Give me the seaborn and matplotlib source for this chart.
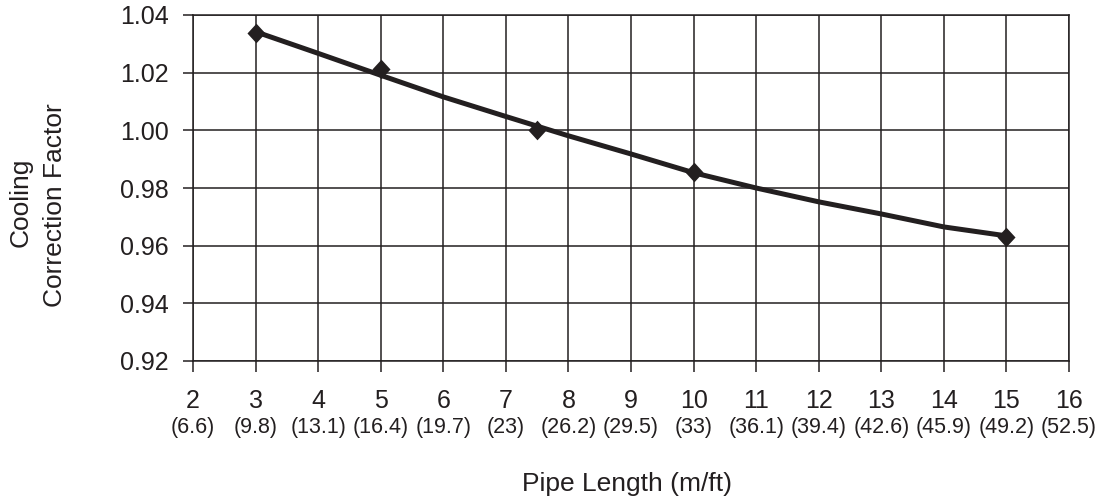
import matplotlib
matplotlib.use("Agg")
import matplotlib.pyplot as plt
import matplotlib.transforms as mtransforms
from matplotlib import font_manager
import seaborn as sns
import pandas as pd

# ---- data ----
tick_m = [2, 3, 4, 5, 6, 7, 8, 9, 10, 11, 12, 13, 14, 15, 16]
tick_ft = ["(6.6)", "(9.8)", "(13.1)", "(16.4)", "(19.7)", "(23)", "(26.2)", "(29.5)",
           "(33)", "(36.1)", "(39.4)", "(42.6)", "(45.9)", "(49.2)", "(52.5)"]
y_ticks = [0.92, 0.94, 0.96, 0.98, 1.00, 1.02, 1.04]

trend_x = [3, 4, 5, 6, 7, 8, 9, 10, 11, 12, 13, 14, 15]
trend_y = [1.0342, 1.0267, 1.0191, 1.0116, 1.0048, 0.9981, 0.9918, 0.9853,
           0.9800, 0.9752, 0.9710, 0.9665, 0.9634]

point_x = [3, 5, 7.5, 10, 15]
point_y = [1.0336, 1.0214, 1.000, 0.9857, 0.9631]

trend = pd.DataFrame({"x": trend_x, "y": trend_y})
points = pd.DataFrame({"x": point_x, "y": point_y})

sns.set_theme(style="white")
plt.rcParams['font.family'] = ['Liberation Sans', 'DejaVu Sans']

INK = "#231f20"

def narrow_family():
    try:
        font_manager.findfont(font_manager.FontProperties(family="Liberation Sans Narrow"),
                              fallback_to_default=False)
        return ["Liberation Sans Narrow", "Liberation Sans"], 18
    except Exception:
        return ["Liberation Sans", "DejaVu Sans"], 15.5

fig = plt.figure(figsize=(11.01, 5.01), dpi=100)
W, H = 1101, 501
ax = fig.add_axes([193 / W, (H - 361) / H, 876 / W, 346 / H])

sns.lineplot(data=trend, x="x", y="y", ax=ax, color=INK, linewidth=3.6, sort=False,
             zorder=3)
diamond = [(0, 1), (0.92, 0), (0, -1), (-0.92, 0), (0, 1)]
sns.scatterplot(data=points, x="x", y="y", ax=ax, marker=diamond, s=200, color=INK,
                edgecolor=INK, linewidth=0, zorder=4)

ax.set_xlim(tick_m[0], tick_m[-1])
ax.set_ylim(y_ticks[0], y_ticks[-1])
ax.set_xticks(tick_m)
ax.set_xticklabels([str(v) for v in tick_m])
ax.set_yticks(y_ticks)
ax.set_yticklabels([f"{v:.2f}" for v in y_ticks])

ax.grid(True, color=INK, linewidth=1.1)
ax.set_axisbelow(True)
for s in ax.spines.values():
    s.set_visible(True)
    s.set_color(INK)
    s.set_linewidth(1.1)

ax.tick_params(axis="x", direction="out", length=8, width=1.1, color=INK,
               labelsize=18, labelcolor=INK, pad=12, bottom=True)
ax.tick_params(axis="y", direction="out", length=7.2, width=1.1, color=INK,
               labelsize=18, labelcolor=INK, pad=10.5, left=True)
ax.set_xlabel("")
ax.set_ylabel("")

fam, fsize = narrow_family()
trans = mtransforms.blended_transform_factory(ax.transData, fig.transFigure)
for xm, ft in zip(tick_m, tick_ft):
    ax.text(xm, 1 - 433 / H, ft, transform=trans, ha="center", va="baseline",
            fontsize=fsize, family=fam, color=INK, clip_on=False)

fig.text(627 / W, 1 - 491.5 / H, "Pipe Length (m/ft)", ha="center", va="baseline",
         fontsize=19, color=INK)
fig.text(27.5 / W, 1 - 202 / H, "Cooling", rotation=90, rotation_mode="anchor",
         ha="center", va="baseline", fontsize=19, color=INK)
fig.text(62 / W, 1 - 205 / H, "Correction Factor", rotation=90, rotation_mode="anchor",
         ha="center", va="baseline", fontsize=19, color=INK)

fig.savefig("out.png", dpi=100, facecolor="white")
